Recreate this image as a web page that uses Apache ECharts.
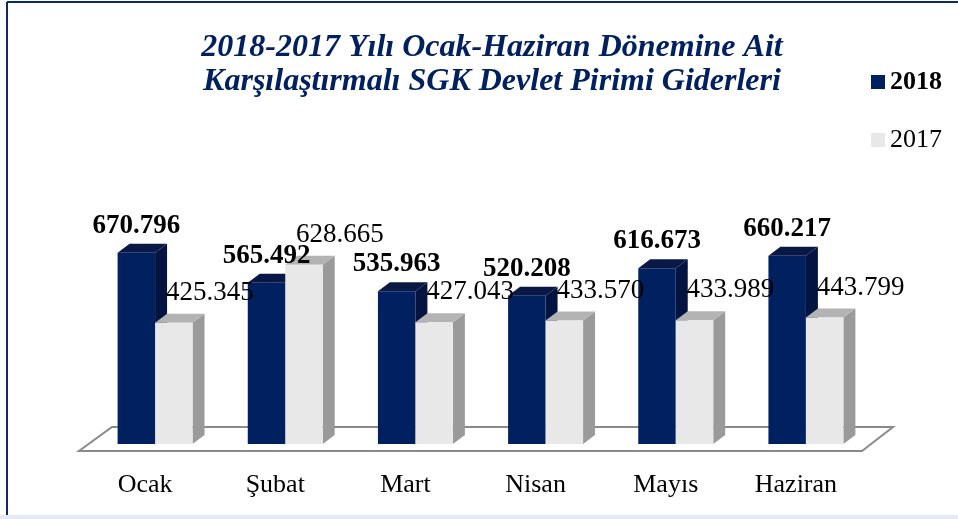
<!DOCTYPE html>
<html>
<head>
<meta charset="utf-8">
<script src="https://cdn.jsdelivr.net/npm/echarts@6/dist/echarts.min.js"></script>
<style>
  html, body { margin: 0; padding: 0; background: #fff; }
  #main { width: 958px; height: 519px; }
</style>
</head>
<body>
<div id="main"></div>
<script>
// aylar
var months = ['Ocak', 'Şubat', 'Mart', 'Nisan', 'Mayıs', 'Haziran'];
// milyon TL
var values2018 = [670.796, 565.492, 535.963, 520.208, 616.673, 660.217];
var values2017 = [425.345, 628.665, 427.043, 433.570, 433.989, 443.799];

var SERIF = '"Liberation Serif", "Times New Roman", serif';

// 3 boyutlu kutu çizimi (ön yüz + yan + üst)
function makeRender(side, face, top, sideCol, bold, labelDx, labelDy) {
    return function(params, api) {
        var idx = api.value(0);
        var val = api.value(1);
        var p = api.coord([idx, val]);
        var b = api.coord([idx, 0]);
        var band = api.size([1, 0])[0];
        var w = band * 0.288;
        var dx = band * 0.092;
        var dy = -9;
        var x0 = side < 0 ? p[0] - w : p[0];
        var x1 = x0 + w;
        var y0 = p[1], y1 = b[1];
        return {
            type: 'group',
            children: [{
                type: 'polygon',
                shape: { points: [[x1, y0], [x1 + dx, y0 + dy], [x1 + dx, y1 + dy], [x1, y1]] },
                style: { fill: sideCol }
            }, {
                type: 'polygon',
                shape: { points: [[x0, y0], [x0 + dx, y0 + dy], [x1 + dx, y0 + dy], [x1, y0]] },
                style: { fill: top }
            }, {
                type: 'rect',
                shape: { x: x0, y: y0, width: w, height: y1 - y0 },
                style: { fill: face }
            }, {
                type: 'text',
                z2: 50,
                style: {
                    text: val.toFixed(3),
                    x: (x0 + x1) / 2 + labelDx,
                    y: y0 + labelDy,
                    align: 'center',
                    verticalAlign: 'middle',
                    fontFamily: SERIF,
                    fontSize: 27,
                    fontWeight: bold ? 'bold' : 'normal',
                    fill: '#000'
                }
            }]
        };
    };
}

var chart = echarts.init(document.getElementById('main'));

var option = {
    backgroundColor: '#fff',
    animation: false,
    color: ['#002060', '#e8e8e8'],
    title: {
        text: '2018-2017 Yılı Ocak-Haziran Dönemine Ait\nKarşılaştırmalı SGK Devlet Pirimi Giderleri',
        left: 487,
        top: 26,
        textAlign: 'center',
        textStyle: {
            fontFamily: SERIF,
            fontSize: 32,
            fontWeight: 'bold',
            fontStyle: 'italic',
            color: '#002060',
            lineHeight: 34
        }
    },
    legend: {
        orient: 'vertical',
        left: 866,
        top: 64,
        itemWidth: 14,
        itemHeight: 14,
        itemGap: 32,
        icon: 'rect',
        textStyle: { fontFamily: SERIF, fontSize: 26, color: '#000' },
        data: [
            { name: '2018', textStyle: { fontWeight: 'bold' } },
            { name: '2017', itemStyle: { color: '#e8e8e8' } }
        ]
    },
    grid: { left: 90, right: 87, top: 216, bottom: 75 },
    xAxis: {
        type: 'category',
        data: months,
        axisLine: { show: false },
        axisTick: { show: false },
        axisLabel: {
            margin: 28,
            fontFamily: SERIF,
            fontSize: 26,
            color: '#000',
            padding: [0, 20, 0, 0]
        }
    },
    yAxis: {
        type: 'value',
        min: 0,
        max: 800,
        show: false
    },
    series: [{
        name: '2018',
        type: 'custom',
        itemStyle: { color: '#002060' },
        renderItem: makeRender(-1, '#002060', '#0a1846', '#02143f', true, 0, -27),
        data: values2018.map(function(v, i) { return [i, v]; })
    }, {
        name: '2017',
        type: 'custom',
        itemStyle: { color: '#e8e8e8' },
        renderItem: makeRender(1, '#e8e8e8', '#b3b3b3', '#9a9a9a', false, 36, -30),
        data: values2017.map(function(v, i) { return [i, v]; })
    }]
};

chart.setOption(option);

// zemin ve çerçeve
var p0 = chart.convertToPixel({ gridIndex: 0 }, [0, 0]);
var p5 = chart.convertToPixel({ gridIndex: 0 }, [5, 0]);
var band = (p5[0] - p0[0]) / 5;
var gl = p0[0] - band / 2;
var gr = p5[0] + band / 2;
var baseY = p0[1];
chart.setOption({
    graphic: [{
        type: 'polygon',
        z: 0,
        shape: { points: [
            [gl + 22, baseY - 17], [gr + 22, baseY - 17],
            [gr - 9, baseY + 7], [gl - 11, baseY + 7]
        ] },
        style: { fill: '#fff', stroke: '#8a8a8a', lineWidth: 2 }
    }, {
        type: 'line',
        shape: { x1: 7, y1: 2, x2: 958, y2: 2 },
        style: { stroke: '#0b2a6b', lineWidth: 2 }
    }, {
        type: 'line',
        shape: { x1: 7, y1: 2, x2: 7, y2: 519 },
        style: { stroke: '#0b2a6b', lineWidth: 2 }
    }, {
        type: 'rect',
        shape: { x: 0, y: 515, width: 958, height: 4 },
        style: { fill: '#e2eaf6' }
    }]
});
</script>
</body>
</html>
